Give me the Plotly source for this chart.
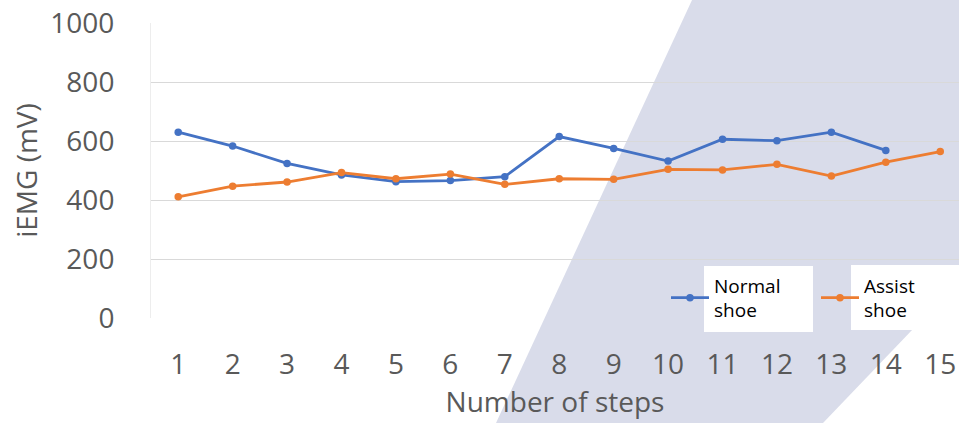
import plotly.graph_objects as go

# iEMG per step for the two shoe conditions
steps = list(range(1, 16))
normal_shoe = [630, 583, 524, 485, 462, 466, 479, 615, 575, 532, 606, 601, 630, 568, None]
assist_shoe = [411, 447, 461, 493, 472, 488, 453, 472, 470, 504, 502, 521, 481, 528, 564]
y_ticks = [0, 200, 400, 600, 800, 1000]

W, H = 959, 423
L, R, T, B = 151, 0, 23, 105
PW, PH = W - L - R, H - T - B

BLUE = "#4472C4"
ORANGE = "#ED7D31"
TXT = "#595959"
FONT = "Open Sans"
FS = 28


def px(x):
    return (x - L) / PW


def py(y):
    return (H - B - y) / PH


fig = go.Figure()
fig.add_trace(go.Scatter(
    x=steps, y=normal_shoe, name="Normal<br>shoe", mode="lines+markers",
    line=dict(color=BLUE, width=2.8), marker=dict(color=BLUE, size=7.5),
    connectgaps=False, legendwidth=97,
))
fig.add_trace(go.Scatter(
    x=steps, y=assist_shoe, name="Assist<br>shoe", mode="lines+markers",
    line=dict(color=ORANGE, width=2.8), marker=dict(color=ORANGE, size=7.5),
    legendwidth=70,
))

# decorative lavender band behind the plot
band = [(692, 0), (W, 0), (W, 281), (823, H), (496, H)]
path = "M " + " L ".join(f"{px(a):.4f},{py(b):.4f}" for a, b in band) + " Z"
shapes = [dict(type="path", xref="paper", yref="paper", path=path,
               fillcolor="#D9DCEA", line=dict(width=0), layer="below")]
# white panels behind legend labels
for x0, x1, y0, y1 in [(704, 813, 266, 332), (851, W, 265, 330)]:
    shapes.append(dict(type="rect", xref="paper", yref="paper",
                       x0=px(x0), x1=px(x1), y0=py(y1), y1=py(y0),
                       fillcolor="white", line=dict(width=0), layer="below"))

fig.update_layout(
    width=W, height=H,
    margin=dict(l=L, r=R, t=T, b=B, pad=0, autoexpand=False),
    paper_bgcolor="white", plot_bgcolor="rgba(0,0,0,0)",
    font=dict(family=FONT, color=TXT, size=FS),
    shapes=shapes,
    showlegend=True,
    legend=dict(
        orientation="h", x=px(666), xanchor="left", y=py(298), yanchor="middle",
        bgcolor="rgba(0,0,0,0)", font=dict(size=19, color="#000000", family=FONT),
        entrywidthmode="pixels", itemwidth=38,
    ),
    xaxis=dict(
        range=[0.5, 0.5 + (W - L) / 54.43], tickmode="array", tickvals=steps,
        ticktext=[str(s) for s in steps], showgrid=False, zeroline=False,
        showline=False, ticks="outside", ticklen=21, tickcolor="rgba(0,0,0,0)",
        tickfont=dict(size=FS, color=TXT),
        title=dict(text="Number of steps", font=dict(size=FS, color=TXT), standoff=4),
    ),
    yaxis=dict(
        range=[0, 1000], tickmode="array", tickvals=y_ticks,
        showgrid=True, gridcolor="#D9D9D9", gridwidth=1, zeroline=False,
        showline=True, linecolor="#EDEDED", linewidth=1,
        ticks="outside", ticklen=30, tickcolor="rgba(0,0,0,0)",
        tickfont=dict(size=FS, color=TXT),
        title=dict(text="iEMG (mV)", font=dict(size=FS, color=TXT), standoff=4),
    ),
)

fig.write_html("out.html")
